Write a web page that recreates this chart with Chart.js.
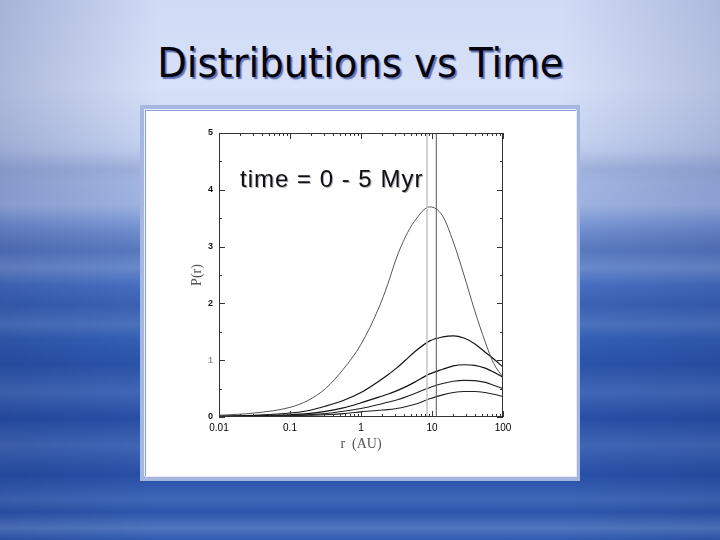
<!DOCTYPE html>
<html lang="en">
  <head>
    <meta charset="UTF-8" />
    <title>Distributions vs Time</title>
    <script src="https://cdn.jsdelivr.net/npm/chart.js@4"></script>
    <style>
      html, body {
        margin: 0;
        padding: 0;
      }

      body {
        width: 720px;
        height: 540px;
        position: relative;
        overflow: hidden;
        background:
          linear-gradient(180deg,
            rgba(255,255,255,0) 0px, rgba(255,255,255,0) 150px,
            rgba(80,100,160,0.18) 170px, rgba(255,255,255,0) 188px,
            rgba(255,255,255,0.12) 205px, rgba(255,255,255,0) 222px,
            rgba(20,40,110,0.15) 250px, rgba(255,255,255,0.12) 268px,
            rgba(255,255,255,0) 285px, rgba(20,40,120,0.12) 305px,
            rgba(255,255,255,0.1) 325px, rgba(255,255,255,0) 340px,
            rgba(10,30,110,0.12) 365px, rgba(255,255,255,0.1) 392px,
            rgba(10,30,110,0.12) 418px, rgba(255,255,255,0.1) 445px,
            rgba(10,30,110,0.12) 475px, rgba(255,255,255,0.08) 500px,
            rgba(10,30,110,0.1) 512px, rgba(255,255,255,0.14) 528px,
            rgba(10,30,110,0.1) 540px),
          linear-gradient(90deg, rgba(20,40,110,0.22) 0%, rgba(255,255,255,0) 22%,
            rgba(255,255,255,0) 78%, rgba(20,40,110,0.18) 100%),
          linear-gradient(180deg, #cfdaf5 0%, #d7e1f8 16%, #c8d5f2 26%,
            #a9bce6 34%, #7594d4 43%, #4a72c2 52%, #3360b5 62%,
            #2b56ae 74%, #2a55ad 86%, #3461b6 100%);
      }

      .slide-title {
        position: absolute;
        left: 0;
        width: 720px;
        top: 43px;
        text-align: center;
        font-family: "DejaVu Sans", Verdana, sans-serif;
        font-size: 41px;
        line-height: 1;
        color: #050510;
        text-shadow: 2px 2px 1px rgba(50, 65, 150, 0.7);
        white-space: nowrap;
      }

      .slide-title span {
        display: inline-block;
        transform-origin: center;
      }

      .panel {
        position: absolute;
        left: 140px;
        top: 105px;
        width: 440px;
        height: 376px;
        background: #a6b6e0;
      }

      .panel-inner {
        position: absolute;
        left: 4px;
        top: 4px;
        width: 431px;
        height: 366px;
        background: #ffffff;
        border-left: 1px solid #e9eefb;
        border-top: 1px solid #e9eefb;
        box-shadow: inset 1px 1px 0 #8a9fd6, 1px 1px 0 #e4eafa;
      }

      .chart-box {
        position: absolute;
        left: 146px;
        top: 111px;
        width: 429px;
        height: 364px;
      }

      .note {
        position: absolute;
        left: 240px;
        top: 167px;
        font-family: "Liberation Sans", Arial, sans-serif;
        font-size: 24px;
        line-height: 1;
        letter-spacing: 1px;
        color: #111;
        text-shadow: 1px 1px 0 rgba(120, 120, 140, 0.6);
        white-space: nowrap;
      }
    </style>
  </head>
  <body>
    <div class="slide-title"><span id="title">Distributions vs Time</span></div>
    <div class="panel"><div class="panel-inner"></div></div>
    <div class="chart-box"><canvas id="distChart"></canvas></div>
    <div class="note">time = 0 - 5 Myr</div>

    <script>
      // radius samples in AU (log spaced, shared by all curves)
      const radius = [0.01, 0.0316, 0.1, 0.178, 0.316, 0.562, 1, 1.78, 2.37,
        3.16, 4.22, 5.62, 9.3, 14.1, 20, 28.2, 39.8, 56.2, 74.1, 100];

      // P(r) at successive times
      const pEarly = [0.03, 0.07, 0.17, 0.29, 0.5, 0.84, 1.28, 1.92, 2.33,
        2.8, 3.17, 3.44, 3.7, 3.54, 3.08, 2.5, 1.88, 1.32, 0.94, 0.7];
      const pMid1 = [0.02, 0.03, 0.07, 0.11, 0.19, 0.29, 0.43, 0.63, 0.74,
        0.86, 1.0, 1.14, 1.34, 1.41, 1.43, 1.39, 1.29, 1.14, 1.02, 0.88];
      const pMid2 = [0.01, 0.02, 0.04, 0.06, 0.1, 0.16, 0.25, 0.35, 0.4,
        0.46, 0.53, 0.61, 0.76, 0.84, 0.9, 0.92, 0.91, 0.86, 0.79, 0.7];
      const pMid3 = [0.01, 0.01, 0.03, 0.04, 0.06, 0.1, 0.15, 0.22, 0.26,
        0.3, 0.35, 0.41, 0.52, 0.59, 0.63, 0.645, 0.64, 0.61, 0.56, 0.5];
      const pLate = [0.005, 0.01, 0.02, 0.03, 0.04, 0.06, 0.09, 0.12, 0.13,
        0.15, 0.18, 0.22, 0.32, 0.39, 0.43, 0.45, 0.45, 0.43, 0.4, 0.36];

      // initial (time = 0) narrow distributions, seen as vertical lines
      const startRadius = [8.5, 11.5];

      const xTickValues = [];
      for (let e = -2; e <= 2; e++) {
        for (let m = 1; m <= 9; m++) {
          const v = m * Math.pow(10, e);
          if (v <= 100) xTickValues.push(+v.toPrecision(3));
        }
      }
      const yMax = 5;

      const toPoints = (vals) => radius.map((r, i) => ({x: r, y: vals[i]}));
      const vLine = (r) => [{x: r, y: 0}, {x: r, y: yMax}];

      function curve(vals, color, width) {
        return {
          data: toPoints(vals),
          borderColor: color,
          borderWidth: width,
          pointRadius: 0,
          cubicInterpolationMode: "monotone",
          fill: false,
        };
      }

      // inward tick marks on all four sides plus the box
      const frameTicks = {
        id: "frameTicks",
        afterDatasetsDraw(chart) {
          const {ctx, chartArea: a, scales} = chart;
          const x = scales.x, y = scales.y;
          ctx.save();
          ctx.strokeStyle = "#333";
          ctx.lineWidth = 1;
          ctx.strokeRect(Math.round(a.left) + 0.5, Math.round(a.top) + 0.5,
            Math.round(a.right - a.left) - 1, Math.round(a.bottom - a.top) - 1);
          ctx.beginPath();
          x.ticks.forEach((t) => {
            const lg = Math.log10(t.value);
            const len = Math.abs(lg - Math.round(lg)) < 1e-6 ? 6 : 3;
            const px = Math.round(x.getPixelForValue(t.value)) + 0.5;
            ctx.moveTo(px, a.bottom); ctx.lineTo(px, a.bottom - len);
            ctx.moveTo(px, a.top); ctx.lineTo(px, a.top + len);
          });
          y.ticks.forEach((t) => {
            const len = Number.isInteger(t.value) ? 6 : 3;
            const py = Math.round(y.getPixelForValue(t.value)) + 0.5;
            ctx.moveTo(a.left, py); ctx.lineTo(a.left + len, py);
            ctx.moveTo(a.right, py); ctx.lineTo(a.right - len, py);
          });
          ctx.stroke();
          ctx.restore();
        },
      };

      const chart = new Chart(document.getElementById("distChart"), {
        type: "line",
        data: {
          datasets: [
            {data: vLine(startRadius[0]), borderColor: "#c4c4c4", borderWidth: 1.5, pointRadius: 0},
            {data: vLine(startRadius[1]), borderColor: "#555", borderWidth: 1, pointRadius: 0},
            curve(pEarly, "#555", 1),
            curve(pMid1, "#111", 1.2),
            curve(pMid2, "#111", 1.2),
            curve(pMid3, "#222", 1.1),
            curve(pLate, "#222", 1.1),
          ],
        },
        options: {
          responsive: true,
          maintainAspectRatio: false,
          animation: false,
          layout: {padding: {left: 0, top: 22, right: 72, bottom: 0}},
          plugins: {legend: {display: false}, tooltip: {enabled: false}},
          scales: {
            x: {
              type: "logarithmic",
              min: 0.01,
              max: 100,
              afterBuildTicks: (s) => { s.ticks = xTickValues.map((v) => ({value: v})); },
              afterFit: (s) => { s.height = 58; },
              grid: {display: false, drawTicks: false},
              border: {display: false},
              ticks: {
                autoSkip: false,
                maxRotation: 0,
                padding: 5,
                color: "#000",
                font: {family: "Liberation Sans, Arial, sans-serif", size: 10},
                callback: (v) => {
                  const lg = Math.log10(v);
                  return Math.abs(lg - Math.round(lg)) < 1e-6 ? String(v) : "";
                },
              },
              title: {
                display: true,
                text: "r  (AU)",
                color: "#555",
                font: {family: "Liberation Serif, DejaVu Serif, serif", size: 14},
                padding: {top: 0, bottom: 22},
              },
            },
            y: {
              min: 0,
              max: yMax,
              afterFit: (s) => { s.width = 73; },
              grid: {display: false, drawTicks: false},
              border: {display: false},
              ticks: {
                stepSize: 0.5,
                autoSkip: false,
                padding: 6,
                color: (c) => (c.tick && c.tick.value === 1 ? "#999" : "#111"),
                font: {family: "Liberation Sans, Arial, sans-serif", size: 9, weight: "bold"},
                callback: (v) => (Number.isInteger(v) ? String(v) : ""),
              },
              title: {
                display: true,
                text: "P(r)",
                color: "#555",
                font: {family: "Liberation Serif, DejaVu Serif, serif", size: 14},
                padding: {top: 43, bottom: 0},
              },
            },
          },
        },
        plugins: [frameTicks],
      });

      // squeeze the heading to the width it has on the slide
      const title = document.getElementById("title");
      const w = title.getBoundingClientRect().width;
      title.style.transform = "scaleX(" + (406 / w).toFixed(3) + ")";
    </script>
  </body>
</html>
